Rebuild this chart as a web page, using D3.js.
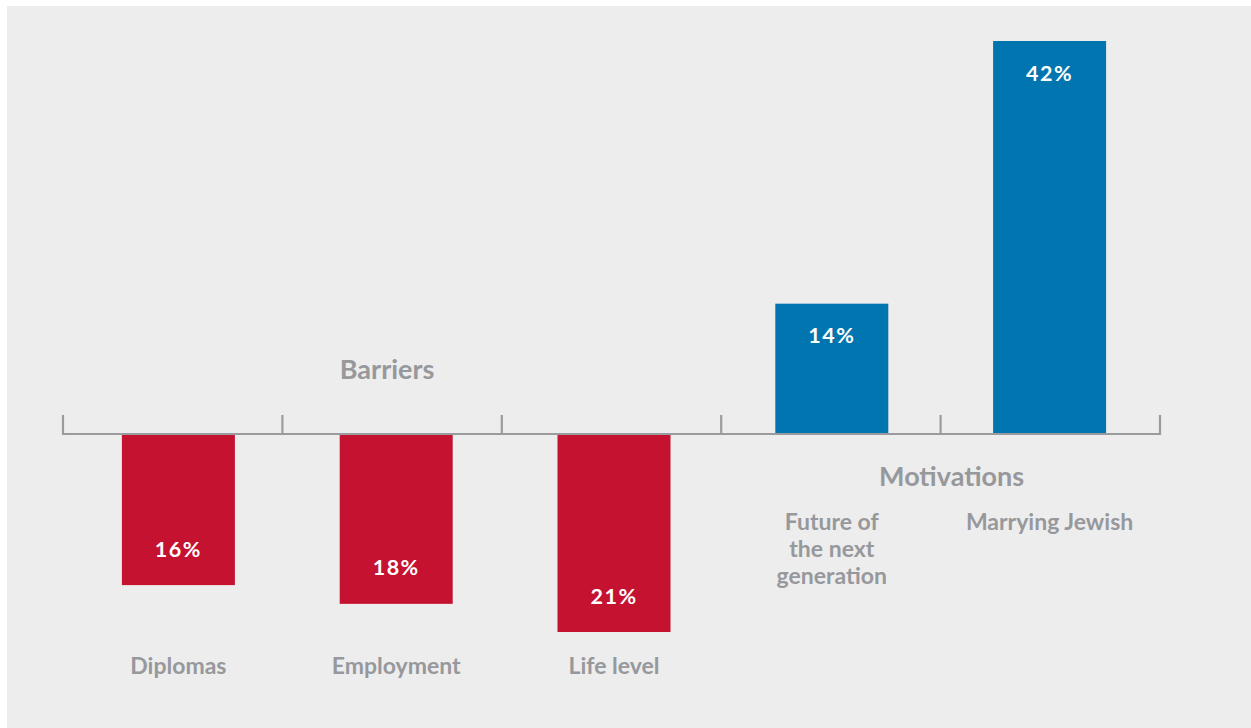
<!DOCTYPE html>
<html>
<head>
<meta charset="utf-8">
<script src="https://cdn.jsdelivr.net/npm/d3@7"></script>
<style>
  body { margin: 0; background: #fff; }
  svg { display: block; }
  text { font-family: Lato, "Open Sans", sans-serif; font-weight: 700; }
</style>
</head>
<body>
<svg id="chart" width="1251" height="728"></svg>
<script>
// Categories, in axis order
const categories = ['Diplomas', 'Employment', 'Life level', 'Future of the next generation', 'Marrying Jewish'];
// Signed values: barriers go below the axis, motivations above
const values = [-16, -18, -21, 14, 42];
const valueLabels = ['16%', '18%', '21%', '14%', '42%'];
// Wrapped tick labels
const tickLines = [['Diplomas'], ['Employment'], ['Life level'], ['Future of', 'the next', 'generation'], ['Marrying Jewish']];
const groups = ['Barriers', 'Motivations'];

const svg = d3.select('#chart');

// Grey panel
svg.append('rect')
    .attr('x', 7).attr('y', 6)
    .attr('width', 1251 - 7).attr('height', 728 - 6)
    .attr('fill', '#ededed');

// axis bands (tick positions)
const x = d3.scaleBand()
    .domain(categories)
    .range([63, 1160]);

// bars sit on a slightly tighter spacing than the ticks
const xBar = d3.scaleBand()
    .domain(categories)
    .range([69.5, 1158.5]);

const y = d3.scaleLinear()
    .domain([0, 42])
    .range([435, 41]);

const barW = 113;
const colour = v => v < 0 ? '#c41230' : '#0075b0';
const mid = c => xBar(c) + xBar.bandwidth() / 2;

// Bars
svg.append('g').selectAll('rect')
    .data(values)
    .join('rect')
    .attr('x', (d, i) => mid(categories[i]) - barW / 2)
    .attr('y', d => Math.min(y(d), y(0)))
    .attr('width', barW)
    .attr('height', d => Math.abs(y(d) - y(0)))
    .attr('fill', colour);

// Axis line with upward ticks at band edges
const base = y(0) - 1;
const axisG = svg.append('g').attr('stroke', '#9a9b9f').attr('stroke-width', 2.2);
axisG.append('line')
    .attr('x1', x.range()[0]).attr('x2', x.range()[1])
    .attr('y1', base).attr('y2', base);
const edges = categories.map(c => x(c)).concat([x.range()[1]]);
axisG.selectAll('.tick')
    .data(edges)
    .join('line')
    .attr('class', 'tick')
    .attr('x1', d => d).attr('x2', d => d)
    .attr('y1', base + 1).attr('y2', base - 19);

// Value labels inside the bars
svg.append('g').selectAll('text')
    .data(values)
    .join('text')
    .attr('x', (d, i) => mid(categories[i]))
    .attr('y', d => d < 0 ? y(d) - 36 : y(d) + 32)
    .attr('dy', '0.35em')
    .attr('text-anchor', 'middle')
    .attr('fill', '#fff')
    .attr('font-size', 21.5)
    .style('letter-spacing', '1.5px')
    .text((d, i) => valueLabels[i]);

// Category labels
const lab = svg.append('g').selectAll('text')
    .data(categories)
    .join('text')
    .attr('x', c => mid(c))
    .attr('y', (c, i) => values[i] < 0 ? 666 : 522)
    .attr('dy', '0.35em')
    .attr('text-anchor', 'middle')
    .attr('fill', '#97989c')
    .attr('font-size', 23);
lab.selectAll('tspan')
    .data((c, i) => tickLines[i])
    .join('tspan')
    .attr('x', function() { return this.parentNode.getAttribute('x'); })
    .attr('dy', (d, j) => j === 0 ? '0.35em' : 27)
    .text(d => d);

// Group titles
svg.append('text')
    .attr('x', x('Employment') + x.bandwidth() / 2 - 5)
    .attr('y', 370).attr('dy', '0.35em')
    .attr('text-anchor', 'middle')
    .attr('fill', '#97989c').attr('font-size', 27)
    .text(groups[0]);
svg.append('text')
    .attr('x', x('Marrying Jewish') + 11)
    .attr('y', 477).attr('dy', '0.35em')
    .attr('text-anchor', 'middle')
    .attr('fill', '#97989c').attr('font-size', 27)
    .text(groups[1]);
</script>
</body>
</html>
